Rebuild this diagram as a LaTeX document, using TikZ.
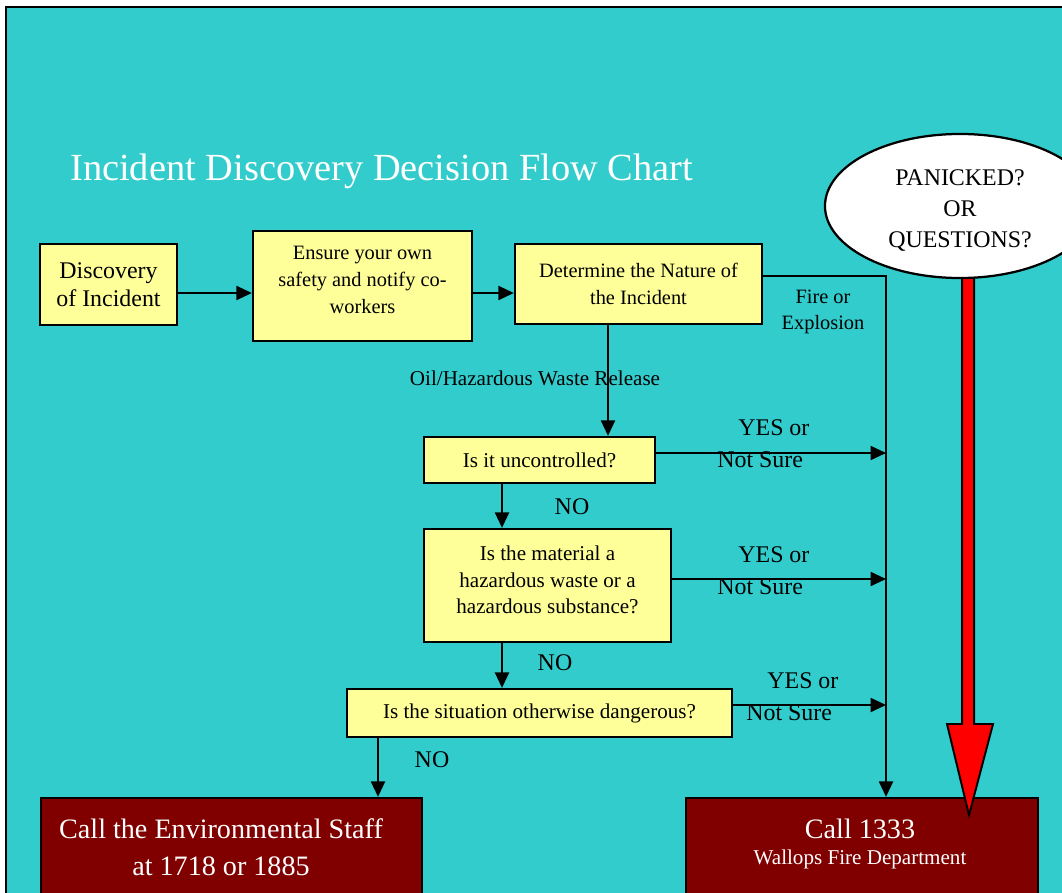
\documentclass[tikz,border=0pt]{standalone}
\usepackage{fontspec}
\setmainfont{Liberation Serif}
\usetikzlibrary{arrows.meta,shapes.geometric,calc}

\definecolor{bgteal}{HTML}{33CCCC}
\definecolor{boxyellow}{HTML}{FFFF99}
\definecolor{boxmaroon}{HTML}{800000}
\definecolor{alertred}{HTML}{FF0000}

\tikzset{
  qbox/.style={draw, line width=1.6pt, fill=boxyellow, align=center, inner sep=0pt,
    font=\fontsize{15}{19}\selectfont},
  callbox/.style={draw, line width=1.6pt, fill=boxmaroon, inner sep=0pt},
  calltext/.style={text=white, align=center, inner sep=0pt},
  flow/.style={line width=1.4pt, -{Triangle[length=11pt,width=10pt]}},
  branch/.style={inner sep=0pt, align=left, font=\fontsize{17}{23}\selectfont},
  nolabel/.style={inner sep=0pt, font=\fontsize{17}{20}\selectfont},
}

\begin{document}
\begin{tikzpicture}[x=0.025cm, y=-0.025cm]
    \useasboundingbox (0,0) rectangle (1062,892);
    \clip (0,0) rectangle (1062,892);
    \fill[white] (0,0) rectangle (1062,892);
    \draw[line width=1.6pt, fill=bgteal] (6,7) rectangle (1090,920);
    \node[anchor=west, inner sep=0pt, text=white, font=\fontsize{27.3}{30}\selectfont] (title) at (70,171) {Incident Discovery Decision Flow Chart};
    \node[qbox, minimum width=3.425cm, minimum height=2.025cm, font=\fontsize{17}{20}\selectfont] (discovery) at (108.5,284.5) {Discovery\\of Incident};
    \node[qbox, minimum width=5.475cm, minimum height=2.75cm] (ensure) at (362.5,286) {};
    \node[align=center, inner sep=0pt, font=\fontsize{14.5}{19}\selectfont] (ensuretext) at (362.5,280) {Ensure your own\\safety and notify co-\\workers};
    \node[qbox, minimum width=6.175cm, minimum height=2cm, font=\fontsize{14.5}{19}\selectfont] (nature) at (638.5,284) {Determine the Nature of\\the Incident};
    \node[qbox, minimum width=5.775cm, minimum height=1.15cm] (unc) at (539.5,460) {Is it uncontrolled?};
    \node[qbox, minimum width=6.175cm, minimum height=2.825cm] (material) at (547.5,585.5) {};
    \node[align=center, inner sep=0pt, font=\fontsize{15}{19}\selectfont] (materialtext) at (547.5,580) {Is the material a\\hazardous waste or a\\hazardous substance?};
    \node[qbox, minimum width=9.625cm, minimum height=1.2cm] (danger) at (539.5,713) {Is the situation otherwise dangerous?};
    \node[callbox, minimum width=9.525cm, minimum height=4.05cm] (envstaff) at (231.5,879) {};
    \node[callbox, minimum width=8.8cm, minimum height=4.05cm] (fire) at (862,879) {};
    \node[calltext, font=\fontsize{20}{26}\selectfont] (envtext) at (221,847.5) {Call the Environmental Staff\\at 1718 or 1885};
    \node[calltext] (firetext) at (860,844) {{\fontsize{20}{24}\selectfont Call 1333}\\[7pt]{\fontsize{15}{18}\selectfont Wallops Fire Department}};
    \coordinate (trunk) at (886,276);
    \coordinate (uncout) at ($(unc.east)+(0,-7)$);
    \coordinate (matout) at ($(material.east)+(0,-6.5)$);
    \coordinate (dangout) at ($(danger.east)+(0,-8)$);
    \draw[flow] ($(discovery.east)+(0,8.5)$) -- ($(ensure.west)+(0,7)$);
    \draw[flow] ($(ensure.east)+(0,7)$) -- ($(nature.west)+(0,9)$);
    \draw[flow] ($(nature.east)+(0,-8)$) -- (trunk) -- (trunk |- fire.north);
    \draw[flow] ($(nature.south)+(-30.5,0)$) -- ($(unc.north)+(68.5,0)$);
    \draw[flow] (uncout) -- (uncout -| trunk);
    \draw[flow] (matout) -- (matout -| trunk);
    \draw[flow] (dangout) -- (dangout -| trunk);
    \draw[flow] ($(unc.south)+(-37.5,0)$) -- ($(material.north)+(-45.5,0)$);
    \draw[flow] ($(material.south)+(-45.5,0)$) -- ($(danger.north)+(-37.5,0)$);
    \draw[flow] ($(danger.south)+(-161.5,0)$) -- ($(envstaff.north)+(146.5,0)$);
    \node[align=center, inner sep=0pt, font=\fontsize{14.5}{18}\selectfont] (firelbl) at (823,312) {Fire or\\Explosion};
    \node[inner sep=0pt, font=\fontsize{15}{18}\selectfont] (oillbl) at (535,378) {Oil/Hazardous Waste Release};
    \node[branch, anchor=west] (yes1) at (717,443.5) {\hspace{15pt}YES or\\Not Sure};
    \node[branch, anchor=west] (yes2) at (717,571) {\hspace{15pt}YES or\\Not Sure};
    \node[branch, anchor=west] (yes3) at (746,696.5) {\hspace{15pt}YES or\\Not Sure};
    \node[nolabel] (no1) at (572,507) {NO};
    \node[nolabel] (no2) at (555,663) {NO};
    \node[nolabel] (no3) at (432,760) {NO};
    \draw[line width=1.4pt, fill=alertred, line join=miter] (962,270) -- (962,724) -- (947,724) -- (969,815) -- (993,724) -- (974,724) -- (974,270) -- cycle;
    \node[ellipse, draw, line width=1.6pt, fill=white, minimum width=6.75cm, minimum height=3.6cm, inner sep=0pt] (panic) at (960,206) {};
    \node[align=center, inner sep=0pt, font=\fontsize{17}{22}\selectfont] (panictext) at (960,210.5) {PANICKED?\\OR\\QUESTIONS?};
\end{tikzpicture}
\end{document}
